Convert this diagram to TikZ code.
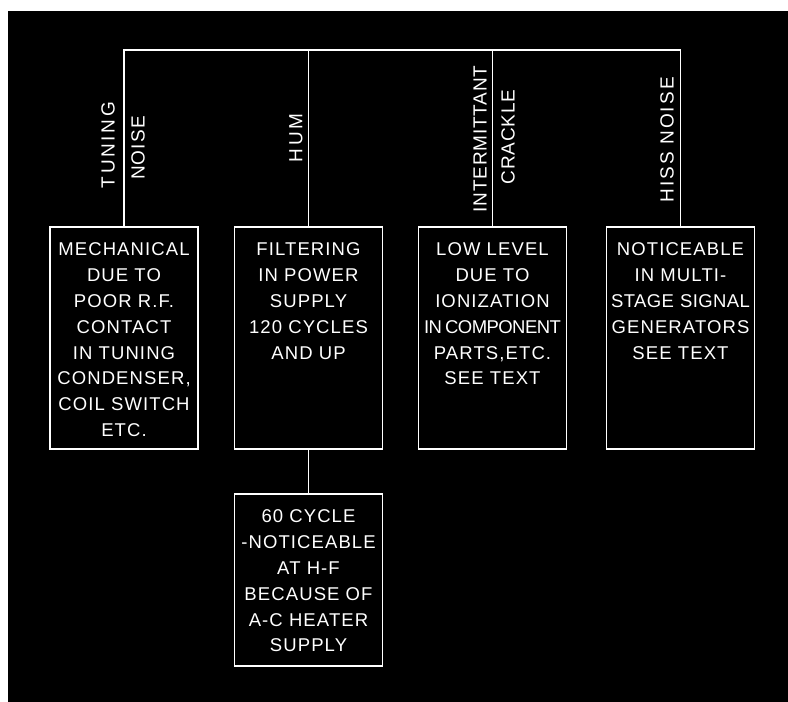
\documentclass[tikz,border=0pt]{standalone}
\usepackage{fontspec}
\newfontfamily\lettering[LetterSpace=6]{Liberation Sans}
\usetikzlibrary{positioning}

\begin{document}
\begin{tikzpicture}[x=1pt,y=-1pt,
wire/.style={draw=white,line width=1.8pt},
box/.style={draw=white,line width=1.8pt,anchor=north,inner sep=0pt,text=white,
  text width=148pt,align=center,text height=29pt,text depth=#1,
  font=\lettering\fontsize{18.5}{25.8}\selectfont},
tag/.style={rotate=90,text=white,inner sep=0pt,font=\lettering\fontsize{19}{22}\selectfont}
]
\useasboundingbox (0,0) rectangle (788,702);
\fill[white] (0,0) rectangle (788,702);
\fill[black] (8,11) rectangle (788,702);

\coordinate (bus) at (0,50);
\node[box=193pt] (mech) at (124,226) {MECHANICAL\\DUE TO\\POOR R.F.\\CONTACT\\IN TUNING\\CONDENSER,\\COIL SWITCH\\ETC.};
\node[box=193pt] (filter) at (308.5,226) {FILTERING\\IN POWER\\SUPPLY\\120 CYCLES\\AND UP};
\node[box=193pt] (level) at (492.5,226) {LOW LEVEL\\DUE TO\\IONIZATION\\{\addfontfeature{LetterSpace=-3}IN\,COMPONENT}\\PARTS,ETC.\\SEE TEXT};
\node[box=193pt] (hiss) at (680.5,226) {NOTICEABLE\\IN MULTI-\\{\addfontfeature{LetterSpace=2}STAGE SIGNAL}\\GENERATORS\\SEE TEXT};
\node[box=143pt] (sixty) at (308.5,493) {60 CYCLE\\-NOTICEABLE\\AT H-F\\BECAUSE OF\\A-C HEATER\\SUPPLY};

\draw[wire] (mech.north) -- (mech.north |- bus) -- (hiss.north |- bus) -- (hiss.north);
\foreach \n in {filter,level}
 \draw[wire] (\n.north) -- (\n.north |- bus);
\draw[wire] (filter.south) -- (sixty.north);

% labels along the drops
\node[tag] (tuning) at (108,145) {\addfontfeature{LetterSpace=14}TUNING};
\node[tag] (noise) at (138,148) {NOISE};
\node[tag] (hum) at (296,138) {\addfontfeature{LetterSpace=14}HUM};
\node[tag] (intermit) at (480,139) {\addfontfeature{LetterSpace=4}INTERMITTANT};
\node[tag] (crackle) at (508,137) {\addfontfeature{LetterSpace=4}CRACKLE};
\node[tag] (hissnoise) at (667,140) {\addfontfeature{LetterSpace=11}HISS NOISE};
\end{tikzpicture}
\end{document}
